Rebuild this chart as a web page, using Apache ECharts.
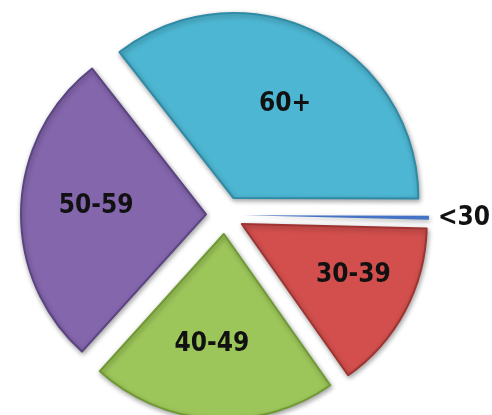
<!DOCTYPE html>
<html>
<head>
<meta charset="utf-8">
<script src="https://cdn.jsdelivr.net/npm/echarts@6/dist/echarts.min.js"></script>
<style>
html,body{margin:0;padding:0;background:#fff;}
#chart{width:492px;height:415px;}
</style>
</head>
<body>
<div id="chart"></div>
<script>
const categories = ['60+', '<30', '30-39', '40-49', '50-59'];
const shares = [35.6, 0.35, 14.85, 21.45, 27.75];
const colors = ['#4db6d2', '#4472c4', '#d24f4d', '#9dc65a', '#8466ad'];
const borders = ['#2f8aa6', '#2f55a0', '#9e3432', '#6f9a33', '#5b4482'];
const insideLabels = [true, false, true, true, true];

const chart = echarts.init(document.getElementById('chart'), null, {renderer: 'canvas'});

const labelFont = {
  color: '#111',
  fontFamily: '"Liberation Sans Narrow", "DejaVu Sans Condensed", sans-serif',
  fontWeight: 'bold',
  fontSize: 26,
  lineHeight: 26
};

// small label nudges (dx, dy)
const nudge = {'60+': [2, 8], '30-39': [12, -2], '40-49': [-5, -3], '50-59': [3, -4]};
function labelStyleFor(name) {
  const n = nudge[name] || [0, 0];
  const dx = n[0], dy = n[1];
  const gap = Math.abs(2 * dy);
  return {
    padding: [0, Math.max(-2 * dx, 0), 0, Math.max(2 * dx, 0)],
    formatter: dy > 0 ? '{g|}\n{t|{b}}' : (dy < 0 ? '{t|{b}}\n{g|}' : '{t|{b}}'),
    rich: {
      g: {lineHeight: gap, height: gap, fontSize: 1},
      t: Object.assign({}, labelFont)
    }
  };
}

const mainData = categories.map((name, i) => ({
  name: name,
  value: shares[i],
  selected: true,
  itemStyle: {
    color: colors[i],
    borderColor: borders[i],
    borderWidth: insideLabels[i] ? 2 : 0
  },
  label: insideLabels[i] ? {show: false} : Object.assign({
    show: true, position: 'outside'
  }, labelFont),
  labelLine: {show: false}
}));

const labelData = categories.map((name, i) => ({
  name: name,
  value: shares[i],
  selected: true,
  label: Object.assign({show: insideLabels[i]}, labelStyleFor(name))
}));

chart.setOption({
  animation: false,
  backgroundColor: '#ffffff',
  series: [
    {
      type: 'pie',
      center: [225, 215],
      radius: [0, 185],
      startAngle: 128,
      clockwise: true,
      selectedMode: 'multiple',
      selectedOffset: 19,
      avoidLabelOverlap: false,
      silent: true,
      itemStyle: {
        shadowBlur: 5,
        shadowColor: 'rgba(0,0,0,0.35)',
        shadowOffsetX: 1,
        shadowOffsetY: 2
      },
      labelLine: {show: false, length: 2, length2: 2},
      label: {show: false},
      emphasis: {disabled: true},
      data: mainData
    },
    {
      type: 'pie',
      center: [225, 215],
      radius: [0, 220],
      startAngle: 128,
      clockwise: true,
      selectedMode: 'multiple',
      selectedOffset: 19,
      avoidLabelOverlap: false,
      silent: true,
      z: 5,
      itemStyle: {color: 'rgba(0,0,0,0)'},
      label: Object.assign({show: true, position: 'inside'}, labelFont),
      labelLine: {show: false},
      emphasis: {disabled: true},
      data: labelData
    }
  ]
});
</script>
</body>
</html>
